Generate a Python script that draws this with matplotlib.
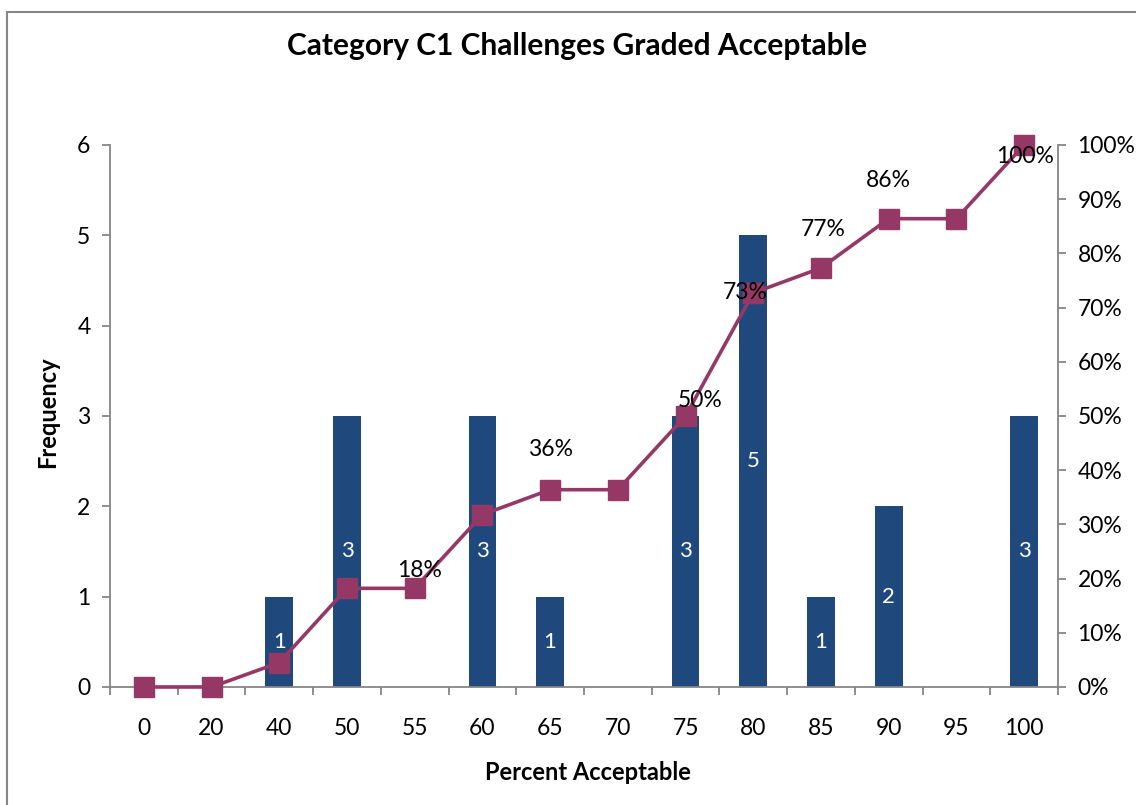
import matplotlib.pyplot as plt
from matplotlib.patches import Rectangle
import numpy as np

# chart data
categories = ['0', '20', '40', '50', '55', '60', '65', '70', '75', '80', '85', '90', '95', '100']
frequency = [0, 0, 1, 3, 0, 3, 1, 0, 3, 5, 1, 2, 0, 3]
cum_pct = [0, 0, 4.5, 18.2, 18.2, 31.8, 36.4, 36.4, 50.0, 72.7, 77.3, 86.4, 86.4, 100.0]
pct_labels = [None, None, None, None, '18%', None, '36%', None, '50%', '73%', '77%', '86%', None, '100%']

# label nudges in pixels (hand placed in the original)
label_dx = [0, 0, 0, 0, 5, 0, 0, 0, 15, -8, 2, 0, 0, 1]
label_dy = [0, 0, 0, 0, 18, 0, 40, 0, 15, 0, 39, 38, 0, -12]

bar_color = '#1F497D'
line_color = '#953865'
axis_color = '#868686'

plt.rcParams['font.family'] = ['Lato', 'DejaVu Sans']

fig = plt.figure(figsize=(11.36, 8.05), dpi=100)
ax1 = fig.add_axes([0.0968, 0.1466, 0.8345, 0.6733])
ax2 = ax1.twinx()

# outer chart frame
fig.patches.append(Rectangle((7 / 1136, -0.1), 1.2, 1 - 12 / 805 + 0.1,
                             transform=fig.transFigure, fill=False,
                             edgecolor=axis_color, linewidth=1.5))

x = np.arange(len(categories))
bars = ax1.bar(x, frequency, width=0.41, color=bar_color, zorder=2)
for xi, f in zip(x, frequency):
    if f > 0:
        ax1.text(xi, f / 2, str(f), color='white', ha='center', va='center', fontsize=16)

ax1.set_xlim(-0.5, len(categories) - 0.5)
ax1.set_ylim(0, 6)
ax1.set_yticks(range(0, 7))
ax1.set_xticks(x)
ax1.set_xticklabels(categories)
ax1.set_xticks(np.arange(-0.5, len(categories)), minor=True)
ax1.tick_params(axis='x', which='major', length=0, pad=22, labelsize=16.5)
ax1.tick_params(axis='x', which='minor', length=6, width=1.3, color=axis_color, direction='out')
ax1.tick_params(axis='y', length=6, width=1.3, color=axis_color, labelsize=16.5, pad=8)

ax2.plot(x, [p / 100 for p in cum_pct], color=line_color, linewidth=2.6,
         marker='s', markersize=14, zorder=3, clip_on=False)
ax2.set_ylim(0, 1)
ax2.set_yticks(np.arange(0, 1.01, 0.1))
ax2.set_yticklabels([f'{int(round(v * 100))}%' for v in np.arange(0, 1.01, 0.1)])
ax2.tick_params(axis='y', length=6, width=1.3, color=axis_color, labelsize=16.5, pad=8)

for xi, p, lab, dx, dy in zip(x, cum_pct, pct_labels, label_dx, label_dy):
    if lab:
        ax2.annotate(lab, (xi, p / 100), xytext=(dx, dy), textcoords='offset pixels',
                     ha='center', va='center', fontsize=16.5, zorder=5)

for ax in (ax1, ax2):
    ax.spines['top'].set_visible(False)
    for s in ('left', 'right', 'bottom'):
        ax.spines[s].set_color(axis_color)
        ax.spines[s].set_linewidth(1.3)
ax1.spines['right'].set_visible(False)
ax2.spines['left'].set_visible(False)
ax2.spines['bottom'].set_visible(False)

fig.text(577 / 1136, 1 - 46 / 805, 'Category C1 Challenges Graded Acceptable',
         ha='center', va='center', fontsize=21.5, fontweight='bold')
fig.text(48 / 1136, 1 - 412 / 805, 'Frequency', rotation=90,
         ha='center', va='center', fontsize=17, fontweight='bold')
fig.text(588 / 1136, 1 - 772 / 805, 'Percent Acceptable',
         ha='center', va='center', fontsize=17, fontweight='bold')

fig.savefig('out.png', dpi=100)
